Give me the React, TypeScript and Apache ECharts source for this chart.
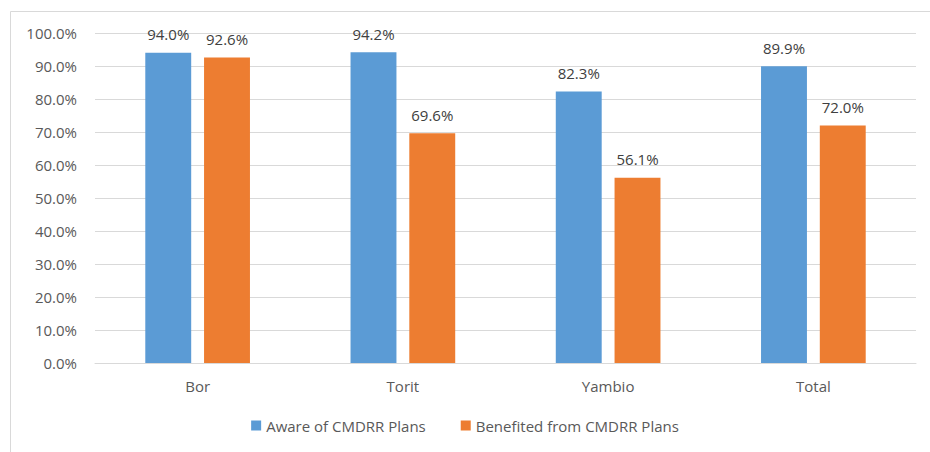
import React, { useEffect, useRef } from "react";
import * as echarts from "echarts";

const categories = ["Bor", "Torit", "Yambio", "Total"];
const awareValues = [94.0, 94.2, 82.3, 89.9];
const benefitedValues = [92.6, 69.6, 56.1, 72.0];
const seriesNames = ["Aware of CMDRR Plans", "Benefited from CMDRR Plans"];

const FONT = "'Open Sans', 'Liberation Sans', sans-serif";

export default function App() {
  const ref = useRef<HTMLDivElement>(null);
  useEffect(() => {
    if (!ref.current) return;
    const chart = echarts.init(ref.current, undefined, { renderer: "svg" });
    const labelStyle = {
      show: true,
      position: "top" as const,
      distance: 11,
      color: "#404040",
      fontSize: 15,
      fontFamily: FONT,
      formatter: (p: any) => Number(p.value).toFixed(1) + "%",
    };
    chart.setOption({
      animation: false,
      backgroundColor: "#ffffff",
      textStyle: { fontFamily: FONT },
      graphic: [
        {
          type: "rect",
          shape: { x: 10.5, y: 11.5, width: 940, height: 460 },
          style: { fill: "none", stroke: "#d9d9d9", lineWidth: 1 },
          silent: true,
        },
      ],
      grid: { left: 95, right: 14, top: 33, bottom: 89 },
      legend: {
        bottom: 14,
        left: "center",
        itemWidth: 10,
        itemHeight: 10,
        itemGap: 35,
        icon: "rect",
        textStyle: { color: "#595959", fontSize: 15, fontFamily: FONT },
        data: seriesNames,
      },
      xAxis: {
        type: "category",
        data: categories,
        axisLine: { lineStyle: { color: "#d9d9d9" } },
        axisTick: { show: false },
        axisLabel: { color: "#595959", fontSize: 15, margin: 15, fontFamily: FONT },
      },
      yAxis: {
        type: "value",
        min: 0,
        max: 100,
        interval: 10,
        axisLine: { show: false },
        axisTick: { show: false },
        splitLine: { lineStyle: { color: "#d9d9d9" } },
        axisLabel: {
          color: "#595959",
          fontSize: 15,
          margin: 18,
          fontFamily: FONT,
          formatter: (v: number) => v.toFixed(1) + "%",
        },
      },
      series: [
        {
          name: seriesNames[0],
          type: "bar",
          data: awareValues,
          itemStyle: { color: "#5b9bd5" },
          barGap: "28%",
          barCategoryGap: "49%",
          label: labelStyle,
        },
        {
          name: seriesNames[1],
          type: "bar",
          data: benefitedValues,
          itemStyle: { color: "#ed7d31" },
          label: labelStyle,
        },
      ],
    });
    return () => chart.dispose();
  }, []);
  return (
    <div
      ref={ref}
      style={{ position: "fixed", left: 0, top: 0, width: 930, height: 452 }}
    />
  );
}
